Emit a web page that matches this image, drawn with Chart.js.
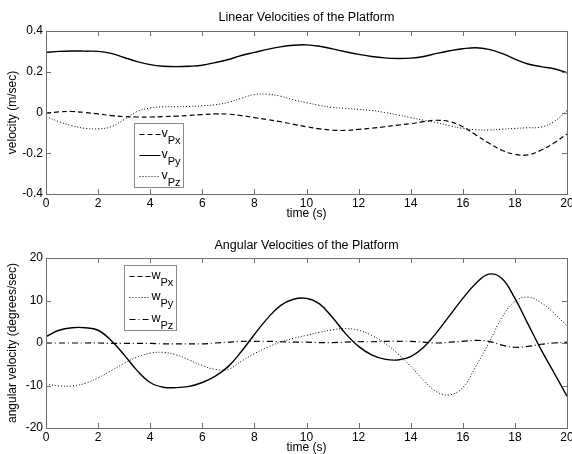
<!DOCTYPE html>
<html><head><meta charset="utf-8">
<script src="https://cdn.jsdelivr.net/npm/chart.js@4/dist/chart.umd.min.js"></script>
<style>
html,body{margin:0;padding:0;background:#fff;overflow:hidden;width:572px;height:454px}
.box{position:absolute;left:0;width:572px}
#b1{top:0;height:227px}
#b2{top:227px;height:240px}
</style></head><body>
<div class="box" id="b1"><canvas id="c1"></canvas></div>
<div class="box" id="b2"><canvas id="c2"></canvas></div>
<script>
const times = [0,0.5,1,1.5,2,2.5,3,3.5,4,4.5,5,5.5,6,6.5,7,7.5,8,8.5,9,9.5,10,10.5,11,11.5,12,12.5,13,13.5,14,14.5,15,15.5,16,16.5,17,17.5,18,18.5,19,19.5,20];
const xTicks = [0,2,4,6,8,10,12,14,16,18,20];
const yTicksLinear = [-0.4,-0.2,0,0.2,0.4];
const yTicksAngular = [-20,-10,0,10,20];

const vPx = [-0.003,0.003,0.005,0.0,-0.007,-0.015,-0.02,-0.022,-0.022,-0.02,-0.018,-0.014,-0.01,-0.007,-0.008,-0.015,-0.025,-0.035,-0.045,-0.058,-0.07,-0.08,-0.087,-0.088,-0.083,-0.077,-0.07,-0.062,-0.055,-0.045,-0.038,-0.045,-0.07,-0.11,-0.15,-0.185,-0.205,-0.208,-0.185,-0.15,-0.105];
const vPy = [0.295,0.30,0.302,0.301,0.30,0.29,0.27,0.25,0.235,0.227,0.225,0.227,0.232,0.245,0.26,0.28,0.295,0.31,0.322,0.33,0.332,0.325,0.312,0.298,0.285,0.275,0.268,0.265,0.267,0.275,0.29,0.303,0.313,0.318,0.31,0.29,0.262,0.238,0.225,0.215,0.195];
const vPz = [-0.02,-0.045,-0.065,-0.078,-0.08,-0.07,-0.035,0.005,0.022,0.028,0.028,0.03,0.033,0.038,0.05,0.07,0.088,0.09,0.08,0.062,0.048,0.035,0.025,0.02,0.015,0.01,0.0,-0.012,-0.025,-0.038,-0.05,-0.065,-0.078,-0.085,-0.086,-0.082,-0.078,-0.075,-0.072,-0.045,0.01];

const wPx = [1.5,3.0,3.6,3.6,3.0,0.6,-2.8,-6.5,-9.3,-10.4,-10.5,-10.2,-9.3,-7.8,-5.5,-2.0,2.0,5.8,8.8,10.3,10.5,9.2,6.0,2.2,-0.8,-2.8,-3.8,-4.0,-3.2,-1.0,2.5,6.5,10.5,14.0,16.2,15.2,10.5,4.5,-1.5,-7.0,-12.5];
const wPy = [-9.7,-10.1,-10.1,-9.5,-8.2,-6.5,-4.8,-3.3,-2.4,-2.2,-2.8,-4.0,-5.3,-6.2,-6.2,-4.3,-2.5,-1.0,0.2,1.1,1.8,2.5,3.1,3.4,3.0,1.8,0.0,-2.5,-5.5,-8.8,-11.5,-12.2,-10.5,-5.5,0.0,6.0,9.8,10.8,9.5,7.0,4.0];
const wPz = [0.0,0.0,0.0,0.0,0.0,-0.1,-0.1,-0.1,-0.1,-0.2,-0.2,-0.2,-0.2,0.0,0.2,0.4,0.4,0.4,0.3,0.2,0.2,0.1,0.1,0.2,0.3,0.3,0.4,0.4,0.4,0.2,0.0,0.2,0.4,0.6,0.4,-0.5,-1.0,-0.8,-0.3,0.0,0.2];

const FONT = "'Liberation Sans', Arial, Helvetica, sans-serif";
const FRAME = '#6e6e6e';

function pts(arr){ return times.map((t,i)=>({x:t,y:arr[i]})); }

const frameTicks = {
  id:'frameTicks',
  afterDatasetsDraw(chart){
    const {ctx, chartArea:a, scales} = chart;
    ctx.save();
    ctx.strokeStyle = FRAME; ctx.lineWidth = 1;
    ctx.beginPath();
    const L = 5;
    scales.x.ticks.forEach(t=>{
      const px = Math.round(scales.x.getPixelForValue(t.value))+0.5;
      ctx.moveTo(px,a.bottom); ctx.lineTo(px,a.bottom-L);
      ctx.moveTo(px,a.top); ctx.lineTo(px,a.top+L);
    });
    scales.y.ticks.forEach(t=>{
      const py = Math.round(scales.y.getPixelForValue(t.value))+0.5;
      ctx.moveTo(a.left,py); ctx.lineTo(a.left+L,py);
      ctx.moveTo(a.right,py); ctx.lineTo(a.right-L,py);
    });
    ctx.stroke();
    ctx.strokeRect(Math.round(a.left)+0.5, Math.round(a.top)+0.5, Math.round(a.right-a.left), Math.round(a.bottom-a.top));
    ctx.restore();
  }
};

const texLegend = {
  id:'texLegend',
  afterDraw(chart, args, o){
    const {ctx, chartArea:a} = chart;
    const x0 = Math.round(a.left + o.dx)+0.5, y0 = Math.round(a.top + o.dy)+0.5;
    ctx.save();
    ctx.fillStyle = '#fff';
    ctx.fillRect(x0,y0,o.w,o.h);
    ctx.strokeStyle = '#8a8a8a'; ctx.lineWidth = 1;
    ctx.strokeRect(x0,y0,o.w,o.h);
    chart.data.datasets.forEach((ds,i)=>{
      const ry = Math.round(y0 + o.first + i*o.step) + 0.5;
      ctx.strokeStyle = '#000'; ctx.lineWidth = 1;
      ctx.setLineDash(ds.legendDash || []);
      ctx.beginPath(); ctx.moveTo(x0+5, ry); ctx.lineTo(x0+26, ry); ctx.stroke();
      ctx.setLineDash([]);
      ctx.fillStyle = '#000';
      ctx.textBaseline = 'alphabetic'; ctx.textAlign = 'left';
      ctx.font = '12.5px ' + FONT;
      ctx.fillText(ds.legendMain, x0+27, ry+2);
      const mw = ctx.measureText(ds.legendMain).width;
      ctx.font = '11px ' + FONT;
      ctx.fillText(ds.legendSub, x0+27+mw, ry+9);
    });
    ctx.restore();
  }
};

function makeChart(id, cfg){
  const yW = 46;
  return new Chart(document.getElementById(id), {
    type:'line',
    data:{ datasets: cfg.datasets.map(d=>({
      label: d.label, data: pts(d.values), legendMain:d.main, legendSub:d.sub, legendDash:d.legendDash,
      borderColor:'#000', borderWidth:d.width, borderDash:d.dash, pointRadius:0, tension:0.4, fill:false
    }))},
    options:{
      responsive:true, maintainAspectRatio:false, animation:false, devicePixelRatio:1,
      layout:{padding:{left:0,right:5,top:0,bottom:0}},
      plugins:{
        legend:{display:false}, tooltip:{enabled:false},
        title:{display:true, fullSize:false, text:cfg.title, color:'#000', font:{family:FONT,size:12.5,weight:'normal'}, padding:cfg.titlePad},
        texLegend: cfg.legend
      },
      scales:{
        x:{type:'linear', min:0, max:20,
          afterBuildTicks(s){ s.ticks = xTicks.map(v=>({value:v})); },
          afterFit(s){ s.height = cfg.xH; s.paddingLeft = 0; s.paddingRight = 0; },
          grid:{display:false, drawTicks:false}, border:{display:false},
          ticks:{color:'#000', font:{family:FONT,size:12}, padding:2, maxRotation:0, autoSkip:false, callback:v=>String(v)},
          title:{display:true, text:'time (s)', color:'#000', font:{family:FONT,size:12}, padding:{top:0,bottom:cfg.xTitlePad}}
        },
        y:{type:'linear', min:cfg.yTicks[0], max:cfg.yTicks[cfg.yTicks.length-1],
          afterBuildTicks(s){ s.ticks = cfg.yTicks.map(v=>({value:v})); },
          afterFit(s){ s.width = yW; s.paddingTop = 0; s.paddingBottom = 0; },
          grid:{display:false, drawTicks:false}, border:{display:false},
          ticks:{color:'#000', font:{family:FONT,size:12}, padding:3, autoSkip:false, callback:v=>String(v)},
          title:{display:true, text:cfg.yTitle, color:'#000', font:{family:FONT,size:12}, padding:{top:5.3,bottom:0}}
        }
      }
    },
    plugins:[frameTicks, texLegend]
  });
}

makeChart('c1', {
  title:'Linear Velocities of the Platform', titlePad:{top:10.5,bottom:5.5},
  yTitle:'velocity (m/sec)', yTicks:yTicksLinear, xH:33, xTitlePad:5.8,
  legend:{dx:88, dy:92, w:49, h:64, first:10, step:21},
  datasets:[
    {label:'vPx', main:'v', sub:'Px', values:vPx, dash:[5,3], legendDash:[5,3], width:1.2},
    {label:'vPy', main:'v', sub:'Py', values:vPy, dash:[], legendDash:[], width:1.4},
    {label:'vPz', main:'v', sub:'Pz', values:vPz, dash:[1,2], legendDash:[1,2], width:1}
  ]
});

makeChart('c2', {
  title:'Angular Velocities of the Platform', titlePad:{top:11.5,bottom:4.5},
  yTitle:'angular velocity (degrees/sec)', yTicks:yTicksAngular, xH:39, xTitlePad:11.8,
  legend:{dx:78, dy:7, w:52, h:65, first:10, step:21.5},
  datasets:[
    {label:'wPx', main:'w', sub:'Px', values:wPx, dash:[], legendDash:[5,3], width:1.4},
    {label:'wPy', main:'w', sub:'Py', values:wPy, dash:[1,2], legendDash:[1,2], width:1},
    {label:'wPz', main:'w', sub:'Pz', values:wPz, dash:[6,3,1,3], legendDash:[6,3,1,3], width:1.2}
  ]
});
</script>
</body></html>
